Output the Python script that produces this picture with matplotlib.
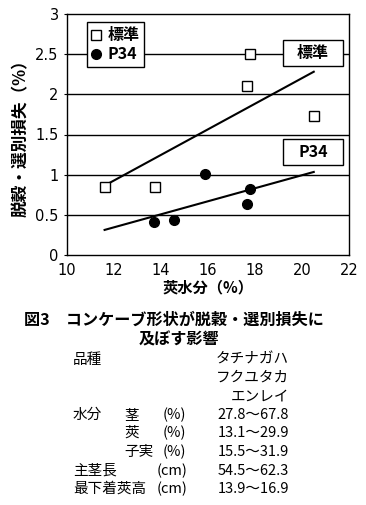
import matplotlib.pyplot as plt
import numpy as np
from matplotlib.patches import Rectangle

plt.rcParams['font.family'] = ['Noto Sans CJK JP', 'DejaVu Sans']

# moisture of pods (%) vs loss (%)
std_x = [11.6, 13.75, 17.8, 17.65, 20.5]
std_y = [0.85, 0.85, 2.5, 2.1, 1.73]
p34_x = [13.7, 14.55, 15.86, 17.8, 17.66]
p34_y = [0.41, 0.44, 1.01, 0.82, 0.63]

xticks = [10, 12, 14, 16, 18, 20, 22]
yticks = [0, 0.5, 1, 1.5, 2, 2.5, 3]

# conditions table
table_rows = [
    ('品種', '', '', 'タチナガハ'),
    ('', '', '', 'フクユタカ'),
    ('', '', '', 'エンレイ'),
    ('水分', '茎', '(%)', '27.8～67.8'),
    ('', '莢', '(%)', '13.1～29.9'),
    ('', '子実', '(%)', '15.5～31.9'),
    ('主茎長', '', '(cm)', '54.5～62.3'),
    ('最下着莢高', '', '(cm)', '13.9～16.9'),
]

fig = plt.figure(figsize=(3.66, 5.05), dpi=100)
W, H = 366, 505
ax = fig.add_axes([67 / W, 1 - 255 / H, 282 / W, 241 / H])

for v in yticks[1:-1]:
    ax.axhline(v, color='black', lw=1.0, zorder=1)

# trend lines over whole x range
xr = np.array([min(std_x + p34_x), max(std_x + p34_x)])
for xs, ys in [(std_x, std_y), (p34_x, p34_y)]:
    k, b = np.polyfit(xs, ys, 1)
    ax.plot(xr, k * xr + b, color='black', lw=1.5, zorder=2)

ax.plot(std_x, std_y, 's', ms=7, mfc='white', mec='black', mew=1.0,
        ls='none', label='標準', zorder=3)
ax.plot(p34_x, p34_y, 'o', ms=7, mfc='black', mec='black',
        ls='none', label='P34', zorder=3)

ax.set_xlim(10, 22)
ax.set_ylim(0, 3)
ax.set_xticks(xticks)
ax.set_yticks(yticks)
ax.set_xticklabels([str(t) for t in xticks], fontsize=10.5, family='DejaVu Sans')
ax.set_yticklabels(['0', '0.5', '1', '1.5', '2', '2.5', '3'], fontsize=10.5,
                   family='DejaVu Sans')
ax.tick_params(axis='y', length=2, width=0.8, pad=4)
ax.tick_params(axis='x', length=0, pad=6)
for s in ax.spines.values():
    s.set_linewidth(1.0)

ax.set_xlabel('莢水分（%）', fontsize=11, fontweight='bold', labelpad=1)
ax.set_ylabel('脱穀・選別損失（%）', fontsize=12, fontweight='bold', labelpad=4)

leg = ax.legend(loc='upper left', bbox_to_anchor=(0.07, 0.965), frameon=True,
                fancybox=False, edgecolor='black', framealpha=1,
                prop={'weight': 'bold', 'size': 11.5}, handlelength=0.6,
                handletextpad=0.4, borderpad=0.3, labelspacing=0.2,
                borderaxespad=0)
leg.get_frame().set_linewidth(1.0)

# boxed series labels
for label, cy in [('標準', 53), ('P34', 152)]:
    x0 = (283 - 67) / 282
    y0 = (255 - cy - 13) / 241
    ax.add_patch(Rectangle((x0, y0), 60 / 282, 26 / 241, transform=ax.transAxes,
                           fc='white', ec='black', lw=1.0, zorder=4))
    ax.text(x0 + 30 / 282, y0 + 13 / 241, label, transform=ax.transAxes,
            ha='center', va='center', fontsize=11.5, fontweight='bold', zorder=5)

fig.text(174 / W, 1 - 320 / H, '図3　コンケーブ形状が脱穀・選別損失に',
         ha='center', va='center', fontsize=11.6, fontweight='bold')
fig.text(179 / W, 1 - 339 / H, '及ぼす影響',
         ha='center', va='center', fontsize=11.6, fontweight='bold')

row_y = [360, 378, 397, 415, 433, 452, 471, 489]
for (c0, c1, c2, c3), yy in zip(table_rows, row_y):
    y = 1 - yy / H
    fig.text(73 / W, y, c0, ha='left', va='center', fontsize=10.5)
    fig.text(124 / W, y, c1, ha='left', va='center', fontsize=10.5)
    fig.text((163 if '%' in c2 else 157) / W, y, c2, ha='left', va='center',
             fontsize=10.5)
    fig.text(289 / W, y, c3, ha='right', va='center', fontsize=10.5)

fig.savefig('out.png', dpi=100)
